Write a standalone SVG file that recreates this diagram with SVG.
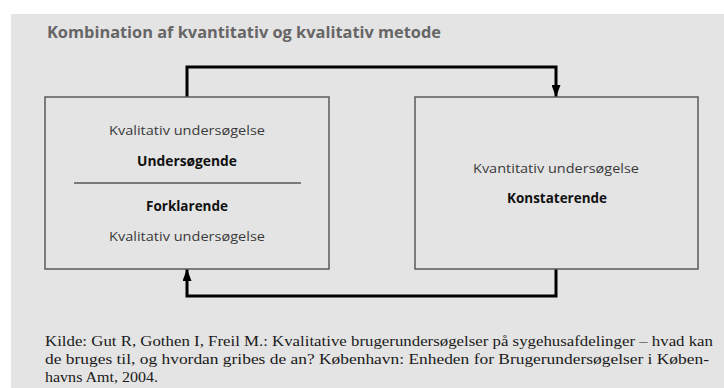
<svg xmlns="http://www.w3.org/2000/svg" width="724" height="388" viewBox="0 0 724 388">
  <style>
    .panel { fill: #e4e4e4; }
    .box { fill: #e4e4e4; stroke: #5a5a5a; stroke-width: 1.5; }
    .title { font-family: "Open Sans", "Liberation Sans", sans-serif; font-weight: bold; font-size: 15.5px; fill: #666666; }
    .lbl { font-family: "Open Sans", "Liberation Sans", sans-serif; font-size: 13.5px; fill: #3a3a3a; text-anchor: middle; }
    .lbl-b { font-family: "Open Sans", "Liberation Sans", sans-serif; font-size: 13.5px; font-weight: bold; fill: #111111; text-anchor: middle; }
    .conn { fill: none; stroke: #000000; stroke-width: 3; }
    .src { font-family: "Liberation Serif", serif; font-size: 15.5px; fill: #1a1a1a; }
  </style>
  <defs>
    <marker id="arrow" viewBox="0 0 12 9" refX="12" refY="4.5" markerWidth="12" markerHeight="9" markerUnits="userSpaceOnUse" orient="auto">
      <path d="M0,0 L12,4.5 L0,9 Z" fill="#000000"/>
    </marker>
  </defs>

  <!-- background panel -->
  <rect class="panel" x="11" y="14" width="713" height="374"/>

  <text class="title" x="47" y="38" textLength="394" lengthAdjust="spacingAndGlyphs">Kombination af kvantitativ og kvalitativ metode</text>

  <!-- connectors -->
  <g id="connectors">
    <path class="conn" d="M187,97 V67 H556 V97" marker-end="url(#arrow)"/>
    <path class="conn" d="M556,269 V296 H187 V269" marker-end="url(#arrow)"/>
  </g>

  <!-- qualitative study box -->
  <g id="kvalitativ">
    <rect class="box" x="45" y="97" width="284" height="172"/>
    <text class="lbl" x="187" y="135" textLength="156" lengthAdjust="spacingAndGlyphs">Kvalitativ undersøgelse</text>
    <text class="lbl-b" x="187" y="166" textLength="100" lengthAdjust="spacingAndGlyphs">Undersøgende</text>
    <line x1="74" y1="183" x2="301" y2="183" stroke="#111111" stroke-width="1"/>
    <text class="lbl-b" x="187" y="211" textLength="82" lengthAdjust="spacingAndGlyphs">Forklarende</text>
    <text class="lbl" x="187" y="241" textLength="156" lengthAdjust="spacingAndGlyphs">Kvalitativ undersøgelse</text>
  </g>

  <!-- quantitative study box -->
  <g id="kvantitativ">
    <rect class="box" x="415" y="97" width="283" height="172"/>
    <text class="lbl" x="556" y="173" textLength="166" lengthAdjust="spacingAndGlyphs">Kvantitativ undersøgelse</text>
    <text class="lbl-b" x="557" y="203" textLength="100" lengthAdjust="spacingAndGlyphs">Konstaterende</text>
  </g>

  <!-- source note -->
  <g id="kilde">
    <text class="src" x="45" y="346" textLength="668" lengthAdjust="spacingAndGlyphs">Kilde: Gut R, Gothen I, Freil M.: Kvalitative brugerundersøgelser på sygehusafdelinger – hvad kan</text>
    <text class="src" x="45" y="364" textLength="664" lengthAdjust="spacingAndGlyphs">de bruges til, og hvordan gribes de an? København: Enheden for Brugerundersøgelser i Køben-</text>
    <text class="src" x="45" y="382" textLength="113" lengthAdjust="spacingAndGlyphs">havns Amt, 2004.</text>
  </g>
</svg>
